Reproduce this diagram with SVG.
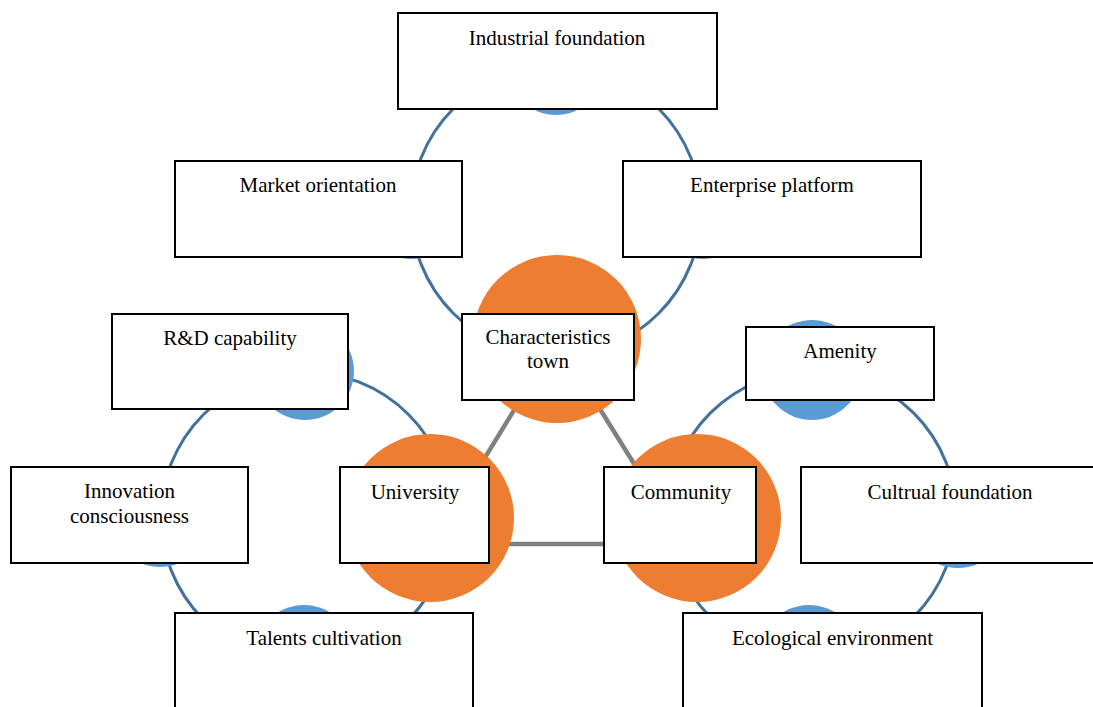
<svg xmlns="http://www.w3.org/2000/svg" width="1093" height="707" viewBox="0 0 1093 707">
<style>
.ring{fill:none;stroke:#41719C;stroke-width:3}
.dot{fill:#5B9BD5}
.hub{fill:#ED7D31}
.box{fill:#FFFFFF;stroke:#000000;stroke-width:2}
.lbl{font-family:"Liberation Serif","Times New Roman",serif;font-size:21px;fill:#000000;text-anchor:middle}
.link{stroke:#808080;stroke-width:4.5;fill:none}
</style>
<rect width="1093" height="707" fill="#FFFFFF"/>
<g id="rings">
<circle class="ring" cx="556" cy="211" r="145"/>
<circle class="ring" cx="306" cy="517" r="145"/>
<circle class="ring" cx="812" cy="515" r="144"/>
</g>
<g id="connectors">
<line class="link" x1="557" y1="340" x2="432" y2="544"/>
<line class="link" x1="557" y1="340" x2="684" y2="544"/>
<line class="link" x1="432" y1="544" x2="684" y2="544"/>
</g>
<g id="satellites">
<circle class="dot" cx="556" cy="66" r="49"/>
<circle class="dot" cx="411" cy="210" r="49"/>
<circle class="dot" cx="703" cy="210" r="49"/>
<circle class="dot" cx="305" cy="371" r="49"/>
<circle class="dot" cx="160" cy="518" r="49"/>
<circle class="dot" cx="304" cy="655" r="50"/>
<circle class="dot" cx="812" cy="370" r="50"/>
<circle class="dot" cx="958" cy="518" r="50"/>
<circle class="dot" cx="809" cy="655" r="50"/>
</g>
<g id="hubs">
<circle class="hub" cx="557" cy="339" r="84"/>
<circle class="hub" cx="430" cy="518" r="84"/>
<circle class="hub" cx="697" cy="518" r="84"/>
</g>
<g id="industrial-foundation">
<rect class="box" x="398" y="13" width="319" height="96"/>
<text class="lbl" x="557" y="45">Industrial foundation</text>
</g>
<g id="market-orientation">
<rect class="box" x="175" y="161" width="287" height="96"/>
<text class="lbl" x="318" y="192">Market orientation</text>
</g>
<g id="enterprise-platform">
<rect class="box" x="623" y="161" width="298" height="96"/>
<text class="lbl" x="772" y="192">Enterprise platform</text>
</g>
<g id="characteristics-town">
<rect class="box" x="462" y="314" width="172" height="86"/>
<text class="lbl" x="548" y="344">Characteristics</text>
<text class="lbl" x="548" y="368">town</text>
</g>
<g id="rd-capability">
<rect class="box" x="112" y="314" width="236" height="95"/>
<text class="lbl" x="230" y="345">R&amp;D capability</text>
</g>
<g id="amenity">
<rect class="box" x="746" y="327" width="188" height="73"/>
<text class="lbl" x="840" y="358">Amenity</text>
</g>
<g id="innovation-consciousness">
<rect class="box" x="11" y="467" width="237" height="96"/>
<text class="lbl" x="129.5" y="498">Innovation</text>
<text class="lbl" x="129.5" y="523">consciousness</text>
</g>
<g id="university">
<rect class="box" x="340" y="467" width="149" height="96"/>
<text class="lbl" x="415" y="499">University</text>
</g>
<g id="community">
<rect class="box" x="604" y="467" width="152" height="96"/>
<text class="lbl" x="681" y="499">Community</text>
</g>
<g id="cultural-foundation">
<rect class="box" x="801" y="467" width="298" height="96"/>
<text class="lbl" x="950" y="499">Cultrual foundation</text>
</g>
<g id="talents-cultivation">
<rect class="box" x="175" y="613" width="298" height="100"/>
<text class="lbl" x="324" y="645">Talents cultivation</text>
</g>
<g id="ecological-environment">
<rect class="box" x="683" y="613" width="299" height="100"/>
<text class="lbl" x="832.5" y="645">Ecological environment</text>
</g>
</svg>
